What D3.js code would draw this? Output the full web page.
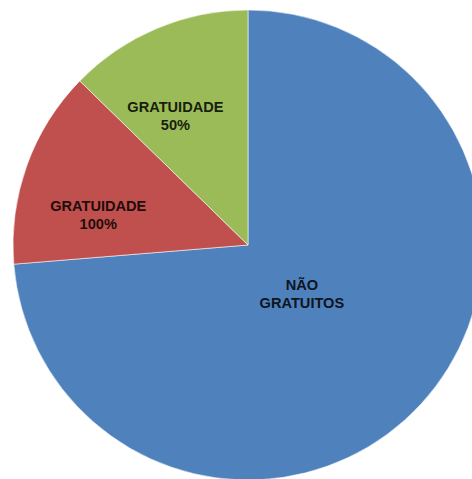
<!DOCTYPE html>
<html>
<head>
<meta charset="utf-8">
<script src="https://cdn.jsdelivr.net/npm/d3@7"></script>
<style>
  html, body { margin: 0; padding: 0; background: #fff; overflow: hidden; }
  svg { display: block; }
</style>
</head>
<body>
<svg id="chart" width="472" height="479"></svg>
<script>
// Share of passengers by fare type (percent)
const categories = ["NÃO GRATUITOS", "GRATUIDADE 100%", "GRATUIDADE 50%"];
const labelLines = [["NÃO", "GRATUITOS"], ["GRATUIDADE", "100%"], ["GRATUIDADE", "50%"]];
const values = [73.7, 13.6, 12.7];
const colors = ["#4F81BD", "#C0504D", "#9BBB59"];

const width = 472, height = 479;
const cx = 248, cy = 245, radius = 235;

// label placement: angular nudge (degrees) and distance as a fraction of the radius
const labelPlacement = [
  { nudge: -1, dist: 0.307 },
  { nudge: -8, dist: 0.651 },
  { nudge: -6.3, dist: 0.634 }
];

const svg = d3.select("#chart");
const g = svg.append("g").attr("transform", `translate(${cx},${cy})`);

const pie = d3.pie().sort(null).value(d => d.value);
const arcs = pie(categories.map((c, i) => ({ name: c, value: values[i], lines: labelLines[i], color: colors[i] })));

const arc = d3.arc().innerRadius(0).outerRadius(radius);

g.selectAll("path.slice")
  .data(arcs)
  .join("path")
  .attr("class", "slice")
  .attr("d", arc)
  .attr("fill", d => d.data.color)
  .attr("stroke", "rgba(255,255,255,0.55)")
  .attr("stroke-width", 1);

const labels = g.selectAll("text.lbl")
  .data(arcs)
  .join("text")
  .attr("class", "lbl")
  .attr("text-anchor", "middle")
  .attr("font-family", "'Liberation Sans', Arial, sans-serif")
  .attr("font-weight", "bold")
  .attr("font-size", "14.6px")
  .attr("fill", d => d3.interpolateRgb(d.data.color, "#000")(0.84))
  .attr("transform", (d, i) => {
    const p = labelPlacement[i];
    const a = (d.startAngle + d.endAngle) / 2 + p.nudge * Math.PI / 180;
    const r = radius * p.dist;
    return `translate(${r * Math.sin(a)},${-r * Math.cos(a)})`;
  });

labels.selectAll("tspan")
  .data(d => d.data.lines)
  .join("tspan")
  .attr("x", 0)
  .attr("y", (t, j) => j === 0 ? -3 : 15)
  .text(t => t);
</script>
</body>
</html>
